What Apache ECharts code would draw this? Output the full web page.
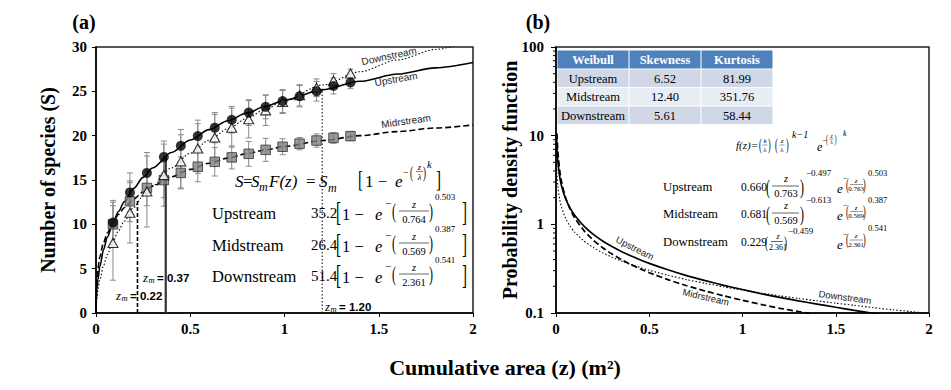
<!DOCTYPE html>
<html><head><meta charset="utf-8">
<script src="https://cdn.jsdelivr.net/npm/echarts@6/dist/echarts.min.js"></script>
<style>html,body{margin:0;padding:0;background:#fff}#c{width:951px;height:390px}</style>
</head><body><div id="c"></div>
<script>
// ---------------- data ----------------
const sampleZ = [0.09,0.18,0.27,0.36,0.45,0.54,0.63,0.72,0.81,0.90,0.99,1.08,1.17,1.26,1.35];
const upstreamS = [10.2,13.6,15.8,17.6,18.85,19.95,20.9,21.8,22.6,23.25,23.9,24.45,25.0,25.6,26.0];
const upstreamErr = [2.5,2.2,2.3,1.8,1.85,1.8,1.7,1.5,1.45,1.35,1.3,1.2,1.1,0.9,0.7];
const midstreamS = [10.0,12.6,14.1,15.0,15.8,16.5,17.05,17.55,17.95,18.4,18.75,19.1,19.45,19.75,19.95];
const midstreamErr = [2.5,2.3,2.0,2.0,1.8,1.7,1.6,1.3,1.4,1.3,0.9,0.7,0.75,0.6,0.5];
const downstreamS = [7.9,11.3,13.7,15.55,17.1,18.55,19.8,20.9,21.85,22.85,23.8,24.55,25.4,26.2,27.0];
const downstreamErr = [4.2,3.4,4.0,3.5,3.0,2.8,2.6,2.2,2.1,1.7,1.3,1.2,1.0,0.8,0.5];

// fitted species-area curves
const fitZ =    [0,0.001,0.005,0.01,0.02,0.04,0.06,0.09,0.12,0.15,0.2,0.25,0.3,0.4,0.5,0.6,0.7,0.8,0.9,1.0,1.2,1.4,1.6,1.8,2.0];
const fitUp =   [0,1.23,2.70,3.76,5.21,7.14,8.55,10.17,11.47,12.55,14.06,15.30,16.36,18.10,19.51,20.68,21.68,22.55,23.32,24.00,25.16,26.13,26.95,27.65,28.25];
const fitMid =  [0,2.17,3.91,4.98,6.32,7.94,9.03,10.22,11.13,11.87,12.85,13.64,14.31,15.37,16.20,16.89,17.47,17.97,18.40,18.79,19.45,20.00,20.46,20.86,21.21];
const fitDown = [0,0.76,1.81,2.60,3.75,5.36,6.59,8.07,9.30,10.36,11.89,13.20,14.36,16.35,18.02,19.49,20.78,21.95,23.01,23.98,25.71,27.21,28.54,29.72,30.80];

// probability density curves (panel b)
const pdfUpZ = [0.003,0.005,0.01,0.02,0.03,0.05,0.075,0.1,0.15,0.2,0.25,0.3,0.35,0.4,0.45,0.5,0.6,0.7,0.8,0.9,1.0,1.1,1.2,1.3,1.4,1.5,1.6,1.7,1.8,2.0];
const pdfUp  = [9.73,7.42,5.08,3.44,2.71,1.98,1.53,1.264,0.953,0.771,0.650,0.562,0.495,0.442,0.399,0.363,0.307,0.264,0.232,0.205,0.184,0.165,0.150,0.137,0.126,0.116,0.107,0.099,0.092,0.081];
const pdfMidZ = [0.005,0.01,0.02,0.03,0.05,0.075,0.1,0.15,0.2,0.25,0.3,0.35,0.4,0.45,0.5,0.6,0.7,0.8,0.9,1.0,1.1,1.2,1.3,1.4];
const pdfMid  = [10.57,6.58,4.03,3.00,2.05,1.49,1.187,0.849,0.663,0.545,0.462,0.401,0.353,0.316,0.285,0.238,0.203,0.177,0.156,0.139,0.125,0.113,0.104,0.095];
const pdfDownZ = [0.001,0.002,0.005,0.01,0.02,0.03,0.05,0.075,0.1,0.15,0.2,0.25,0.3,0.35,0.4,0.45,0.5,0.6,0.7,0.8,0.9,1.0,1.1,1.2,1.3,1.4,1.5,1.6,1.7,1.8,1.9,2.0];
const pdfDown  = [7.97,5.76,3.73,2.67,1.90,1.55,1.187,0.956,0.816,0.648,0.547,0.477,0.426,0.385,0.353,0.326,0.303,0.267,0.238,0.216,0.197,0.181,0.168,0.156,0.146,0.137,0.129,0.122,0.115,0.109,0.104,0.099];

// z_m reference lines
const zmValues = [0.22, 0.37, 1.20];
const zmTops = [12.75, 17.6, 25.3];

// log minor ticks
const logMinor = [0.2,0.3,0.4,0.5,0.6,0.7,0.8,0.9,2,3,4,5,6,7,8,9,20,30,40,50,60,70,80,90];

// table
const tableHeader = ['Weibull','Skewness','Kurtosis'];
const tableRows = [['Upstream','6.52','81.99'],['Midstream','12.40','351.76'],['Downstream','5.61','58.44']];

// ---------------- helpers ----------------
const SERIF = "'Liberation Serif','Times New Roman',serif";
const SANS = "'Liberation Sans',Arial,sans-serif";
function T(text, x, y, o) {
  o = o || {};
  return {type:'text', x:x, y:y, rotation:o.rot||0, scaleX:o.sx||1, scaleY:o.sy||1, silent:true, z:100,
    style:{text:text, fontSize:o.size||14, fontFamily:o.font||SERIF, fontStyle:o.it?'italic':'normal',
      fontWeight:o.b?'bold':'normal', fill:o.color||'#000', align:o.align||'left', verticalAlign:'middle'}};
}
function L(x1,y1,x2,y2,w){ return {type:'line', silent:true, z:100, shape:{x1:x1,y1:y1,x2:x2,y2:y2}, style:{stroke:'#000', lineWidth:w||0.7}}; }
const zip = (a,b) => a.map((v,i)=>[v,b[i]]);

function errSeries(z, s, e) {
  return {type:'custom', xAxisIndex:0, yAxisIndex:0, z:1, silent:true, clip:true,
    data: z.map((x,i)=>[x, s[i]-e[i], s[i]+e[i]]),
    encode:{x:0, y:[1,2]},
    renderItem: function(params, api){
      const x = api.value(0);
      const lo = api.coord([x, api.value(1)]);
      const hi = api.coord([x, api.value(2)]);
      const w = 3, st = {stroke:'#8a8a8a', lineWidth:1};
      return {type:'group', children:[
        {type:'line', shape:{x1:lo[0],y1:lo[1],x2:hi[0],y2:hi[1]}, style:st},
        {type:'line', shape:{x1:lo[0]-w,y1:lo[1],x2:lo[0]+w,y2:lo[1]}, style:st},
        {type:'line', shape:{x1:hi[0]-w,y1:hi[1],x2:hi[0]+w,y2:hi[1]}, style:st}]};
    }};
}

function rowA(name, coef, lam, k, y) {
  return [
    T(name, 212, y, {size:16.5}),
    T(coef, 311, y, {size:15}),
    T('[', 336, y-1, {size:15, sy:1.8}),
    T('1 − ', 342, y+1, {size:16.5}),
    T('e', 375, y+1, {size:16.5, it:true}),
    T('−', 385, y-10, {size:11}),
    T('(', 392, y-2, {size:12, sy:1.7}),
    T('z', 414, y-8.5, {size:10.5, it:true, align:'center'}),
    L(399, y-2, 429, y-2, 0.6),
    T(lam, 414, y+6, {size:10.5, align:'center'}),
    T(')', 429, y-2, {size:12, sy:1.7}),
    T(k, 435, y-16, {size:9}),
    T(']', 462, y-1, {size:15, sy:1.8})
  ];
}
function rowB(name, coef, lam, ex1, k, y, small) {
  const f = small ? {zc:778, zy:-5.5, dy:5.5, fs:8, p1:765, p2:784, ex:788, exy:-11, psz:9}
                  : {zc:786, zy:-8, dy:7, fs:10.5, p1:766, p2:800, ex:806, exy:-14, psz:12};
  return [
    T(name, 663, y, {size:12.7}),
    T(coef, 741, y, {size:11.5}),
    T('(', f.p1, y, {size:f.psz, sy:1.8}),
    T('z', f.zc, y+f.zy, {size:f.fs, it:true, align:'center'}),
    L(f.p1+6, y-0.5, f.p2-1, y-0.5, 0.6),
    T(lam, f.zc, y+f.dy, {size:f.fs, align:'center'}),
    T(')', f.p2, y, {size:f.psz, sy:1.8}),
    T(ex1, f.ex, y+f.exy, {size:9}),
    T('e', 837, y+2, {size:13, it:true}),
    T('−', 843, y-8, {size:8}),
    T('(', 846, y-2, {size:8, sy:2}),
    T('z', 856, y-6, {size:7, it:true, align:'center'}),
    L(850, y-2, 863, y-2, 0.4),
    T(lam, 856, y+2.5, {size:7, align:'center'}),
    T(')', 863, y-2, {size:8, sy:2}),
    T(k, 868, y-14, {size:8.5})
  ];
}

// ---------------- graphic ----------------
const g = [];
g.push(T('(a)', 84, 22, {size:20, b:true, align:'center'}));
g.push(T('(b)', 538, 22, {size:20, b:true, align:'center'}));
g.push(T('Number of species (S)', 48, 180, {size:20, b:true, align:'center', rot:Math.PI/2}));
g.push(T('Probability density function', 510, 180, {size:20, b:true, align:'center', rot:Math.PI/2}));
g.push(T('Cumulative area (z) (m²)', 505, 367, {size:22, b:true, align:'center'}));

// curve labels (a)
g.push(T('Downstream', 389, 56, {size:10, font:SANS, align:'center', rot:12*Math.PI/180, color:'#222'}));
g.push(T('Upstream', 396, 79, {size:10, font:SANS, align:'center', rot:10*Math.PI/180, color:'#222'}));
g.push(T('Midrstream', 406, 121, {size:10, font:SANS, align:'center', rot:8*Math.PI/180, color:'#222'}));
// curve labels (b)
g.push(T('Upstream', 635, 248, {size:9.5, font:SANS, align:'center', rot:-27*Math.PI/180, color:'#222'}));
g.push(T('Midrstream', 706, 297, {size:9.5, font:SANS, align:'center', rot:-13*Math.PI/180, color:'#222'}));
g.push(T('Downstream', 845, 297, {size:9.5, font:SANS, align:'center', rot:-7.5*Math.PI/180, color:'#222'}));

// z_m labels
function zmLabel(x, y, val){
  return [T('z', x, y, {size:13, it:true}), T('m', x+5.5, y+3, {size:8.5, it:true}),
          T('= ' + val, x+14, y+1, {size:11.5, b:true, font:SANS})];
}
g.push(...zmLabel(143, 277, zmValues[1].toFixed(2)));
g.push(...zmLabel(116, 295, zmValues[0].toFixed(2)));
g.push(...zmLabel(325, 306, zmValues[2].toFixed(2)));

// formula (a)
const y1 = 181;
g.push(T('S', 235, y1, {size:17, it:true}), T('=', 243, y1, {size:17}), T('S', 251, y1, {size:17, it:true}),
  T('m', 259, y1+6, {size:12, it:true}), T('F(z)', 269, y1, {size:17, it:true}), T('=', 306, y1, {size:17}),
  T('S', 319, y1, {size:17, it:true}), T('m', 328, y1+7, {size:12, it:true}),
  T('[', 358, y1-2, {size:15, sy:1.6}), T('1 − ', 365, y1, {size:17}), T('e', 395, y1, {size:17, it:true}),
  T('−', 403, y1-9, {size:10}), T('(', 410, y1-9, {size:9, sy:1.9}),
  T('z', 419.5, y1-14, {size:8.5, it:true, align:'center'}), L(416, y1-9.5, 423, y1-9.5, 0.5),
  T('λ', 419.5, y1-4.5, {size:8.5, it:true, align:'center'}), T(')', 423, y1-9, {size:9, sy:1.9}),
  T('k', 427, y1-17, {size:10.5, it:true}), T(']', 436, y1-2, {size:15, sy:1.6}));
g.push(...rowA('Upstream', '35.2', '0.764', '0.503', 213));
g.push(...rowA('Midstream', '26.4', '0.569', '0.387', 245));
g.push(...rowA('Downstream', '51.4', '2.361', '0.541', 276));

// formula (b)
const y2 = 145;
g.push(T('f(z)=', 736, y2, {size:11, it:true}),
  T('(', 759, y2, {size:8, sy:2}), T('k', 765, y2-4.5, {size:7, it:true, align:'center'}), L(762.5, y2, 767.5, y2, 0.4),
  T('λ', 765, y2+4.5, {size:7, align:'center'}), T(')', 768, y2, {size:8, sy:2}),
  T('(', 775, y2, {size:8, sy:2}), T('z', 782, y2-4.5, {size:7, it:true, align:'center'}), L(779.5, y2, 784.5, y2, 0.4),
  T('λ', 782, y2+4.5, {size:7, align:'center'}), T(')', 786, y2, {size:8, sy:2}),
  T('k−1', 792, y2-11, {size:10, it:true}),
  T('e', 817, y2+2, {size:12, it:true}), T('−', 822.5, y2-5, {size:8}),
  T('(', 826, y2-6, {size:6, sy:2}), T('z', 831.5, y2-9, {size:5.5, it:true, align:'center'}), L(829.5, y2-6, 833.5, y2-6, 0.4),
  T('λ', 831.5, y2-3, {size:5.5, align:'center'}), T(')', 834.5, y2-6, {size:6, sy:2}),
  T('k', 843, y2-12, {size:8, it:true}));
g.push(...rowB('Upstream', '0.660', '0.763', '−0.497', '0.503', 186.5, false));
g.push(...rowB('Midstream', '0.681', '0.569', '−0.613', '0.387', 213.5, false));
g.push(...rowB('Downstream', '0.229', '2.361', '−0.459', '0.541', 242, true));

// table
const tCols = [557, 629, 701, 773];
const tRows = [50, 69, 87.5, 106, 124.5];
const tFills = ['#4F81BD', '#D0D8E8', '#E9EDF4', '#D0D8E8'];
const allRows = [tableHeader].concat(tableRows);
allRows.forEach((row, r) => {
  row.forEach((cell, c) => {
    g.push({type:'rect', silent:true, z:90, shape:{x:tCols[c]+0.5, y:tRows[r]+0.5, width:tCols[c+1]-tCols[c]-1, height:tRows[r+1]-tRows[r]-1},
      style:{fill:tFills[r]}});
    g.push(T(cell, (tCols[c]+tCols[c+1])/2, (tRows[r]+tRows[r+1])/2+0.5,
      {size:12.5, align:'center', b:r===0, color:r===0?'#fff':'#000'}));
  });
});

// ---------------- chart ----------------
const axisLineStyle = {color:'#000', width:1.5};
const tickLabel = {fontFamily:SERIF, fontWeight:'bold', fontSize:15, color:'#000'};
const chart = echarts.init(document.getElementById('c'), null, {renderer:'svg'});
chart.setOption({
  animation:false,
  backgroundColor:'#fff',
  grid:[
    {left:96, top:47, width:377, height:266, show:true, borderColor:'#222', borderWidth:1.5, backgroundColor:'transparent'},
    {left:556, top:47, width:373, height:266, show:true, borderColor:'#222', borderWidth:1.5, backgroundColor:'transparent'}
  ],
  xAxis:[
    {gridIndex:0, type:'value', min:0, max:2, interval:0.5, axisLine:{lineStyle:axisLineStyle},
     axisTick:{show:true, length:4, lineStyle:{color:'#000'}}, axisLabel:Object.assign({margin:8}, tickLabel), splitLine:{show:false}},
    {gridIndex:1, type:'value', min:0, max:2, interval:0.5, axisLine:{lineStyle:axisLineStyle},
     axisTick:{show:true, length:4, lineStyle:{color:'#000'}}, axisLabel:Object.assign({margin:8}, tickLabel), splitLine:{show:false}}
  ],
  yAxis:[
    {gridIndex:0, type:'value', min:0, max:30, interval:5, axisLine:{show:true, lineStyle:axisLineStyle},
     axisTick:{show:true, length:4, lineStyle:{color:'#000'}}, axisLabel:Object.assign({margin:9}, tickLabel), splitLine:{show:false}},
    {gridIndex:1, type:'log', logBase:10, min:0.1, max:100, axisLine:{show:true, lineStyle:axisLineStyle},
     axisTick:{show:true, length:5, lineStyle:{color:'#000'}},
     axisLabel:Object.assign({margin:12, formatter:v => v >= 1 ? String(Math.round(v)) : String(+v.toFixed(1))}, tickLabel),
     splitLine:{show:false}}
  ],
  graphic:g,
  series:[
    errSeries(sampleZ, upstreamS, upstreamErr),
    errSeries(sampleZ, midstreamS, midstreamErr),
    errSeries(sampleZ, downstreamS, downstreamErr),
    {type:'line', name:'Upstream fit', xAxisIndex:0, yAxisIndex:0, data:zip(fitZ, fitUp), showSymbol:false, symbol:'none',
     smooth:0.3, smoothMonotone:'x', lineStyle:{color:'#000', width:1.6}, z:2},
    {type:'line', name:'Midstream fit', xAxisIndex:0, yAxisIndex:0, data:zip(fitZ, fitMid), showSymbol:false, symbol:'none',
     smooth:0.3, smoothMonotone:'x', lineStyle:{color:'#000', width:1.6, type:[6,3]}, z:2},
    {type:'line', name:'Downstream fit', xAxisIndex:0, yAxisIndex:0, data:zip(fitZ, fitDown), showSymbol:false, symbol:'none',
     smooth:0.3, smoothMonotone:'x', lineStyle:{color:'#000', width:1.1, type:[1.5,2]}, z:2},
    // zm lines
    {type:'line', xAxisIndex:0, yAxisIndex:0, data:[[zmValues[0],0],[zmValues[0],zmTops[0]]], symbol:'none', lineStyle:{color:'#000', width:1.6, type:[4,2]}, z:2},
    {type:'line', xAxisIndex:0, yAxisIndex:0, data:[[zmValues[1],0],[zmValues[1],zmTops[1]]], symbol:'none', lineStyle:{color:'#333', width:2.2}, z:2},
    {type:'line', xAxisIndex:0, yAxisIndex:0, data:[[zmValues[2],0],[zmValues[2],zmTops[2]]], symbol:'none', lineStyle:{color:'#000', width:1, type:[1.5,2]}, z:2},
    // markers
    {type:'scatter', name:'Midstream', xAxisIndex:0, yAxisIndex:0, data:zip(sampleZ, midstreamS), symbol:'rect', symbolSize:9.5,
     itemStyle:{color:'#808080', borderColor:'#333', borderWidth:1}, z:3},
    {type:'scatter', name:'Downstream', xAxisIndex:0, yAxisIndex:0, data:zip(sampleZ, downstreamS), symbol:'triangle', symbolSize:[10,9],
     itemStyle:{color:'#fff', borderColor:'#000', borderWidth:1.1}, z:4},
    {type:'scatter', name:'Upstream', xAxisIndex:0, yAxisIndex:0, data:zip(sampleZ, upstreamS), symbol:'circle', symbolSize:10,
     itemStyle:{color:'#000'}, z:5},
    // panel b
    {type:'line', name:'Upstream pdf', xAxisIndex:1, yAxisIndex:1, data:zip(pdfUpZ, pdfUp), symbol:'none', smooth:0.2,
     lineStyle:{color:'#000', width:1.7}},
    {type:'line', name:'Midstream pdf', xAxisIndex:1, yAxisIndex:1, data:zip(pdfMidZ, pdfMid), symbol:'none', smooth:0.2,
     lineStyle:{color:'#000', width:1.7, type:[6,3]}},
    {type:'line', name:'Downstream pdf', xAxisIndex:1, yAxisIndex:1, data:zip(pdfDownZ, pdfDown), symbol:'none', smooth:0.2,
     lineStyle:{color:'#000', width:1.1, type:[1.5,2]}},
    // log minor ticks
    {type:'custom', xAxisIndex:1, yAxisIndex:1, silent:true, data:logMinor.map(v=>[0,v]),
     renderItem:function(params, api){
       const p = api.coord([0, api.value(1)]);
       return {type:'line', shape:{x1:p[0]-3, y1:p[1], x2:p[0], y2:p[1]}, style:{stroke:'#000', lineWidth:1}};
     }}
  ]
});
</script></body></html>
